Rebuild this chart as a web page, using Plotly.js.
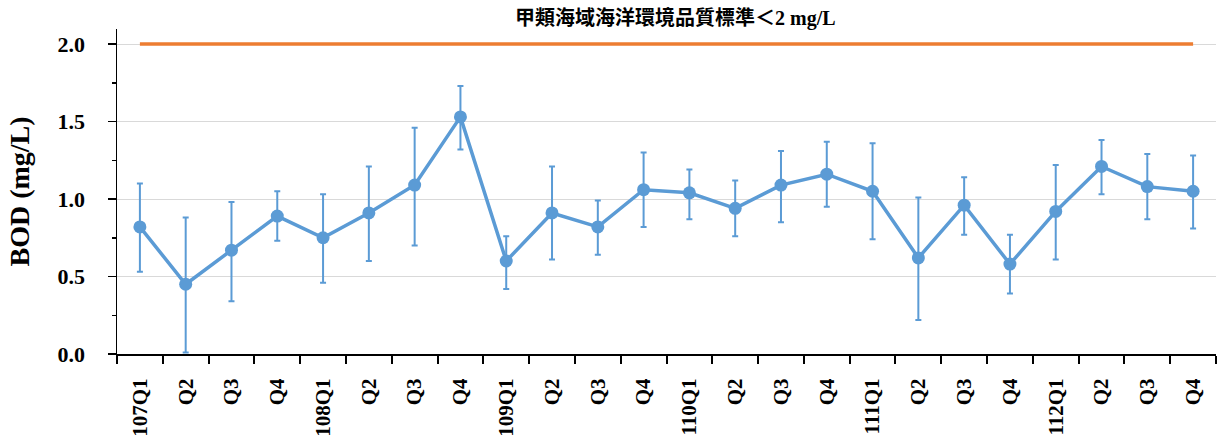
<!DOCTYPE html>
<html>
<head>
<meta charset="utf-8">
<script src="https://cdn.plot.ly/plotly-3.0.1.min.js"></script>
<style>html,body{margin:0;padding:0;background:#fff;}#chart{width:1220px;height:442px;}</style>
</head>
<body>
<div id="chart"></div>
<script>
// Quarter labels along the x axis
const quarters = ["107Q1","Q2","Q3","Q4","108Q1","Q2","Q3","Q4","109Q1","Q2","Q3","Q4",
                  "110Q1","Q2","Q3","Q4","111Q1","Q2","Q3","Q4","112Q1","Q2","Q3","Q4"];
// Mean BOD (mg/L)
const bodMean = [0.82,0.45,0.67,0.89,0.75,0.91,1.09,1.53,0.60,0.91,0.82,1.06,
                 1.04,0.94,1.09,1.16,1.05,0.62,0.96,0.58,0.92,1.21,1.08,1.05];
// Upper end of error bar
const bodHigh = [1.10,0.88,0.98,1.05,1.03,1.21,1.46,1.73,0.76,1.21,0.99,1.30,
                 1.19,1.12,1.31,1.37,1.36,1.01,1.14,0.77,1.22,1.38,1.29,1.28];
// Lower end of error bar
const bodLow  = [0.53,0.01,0.34,0.73,0.46,0.60,0.70,1.32,0.42,0.61,0.64,0.82,
                 0.87,0.76,0.85,0.95,0.74,0.22,0.77,0.39,0.61,1.03,0.87,0.81];
// Class A marine water quality standard
const standardLimit = 2.0;
const standardLabel = "甲類海域海洋環境品質標準＜2 mg/L";
const yTitle = "BOD (mg/L)";

const idx = quarters.map((_, i) => i);
const errPlus = bodHigh.map((h, i) => h - bodMean[i]);
const errMinus = bodMean.map((m, i) => m - bodLow[i]);

const serif = "'Times New Roman', 'Liberation Serif', 'Noto Sans CJK TC', serif";

const traces = [
  {
    x: idx, y: idx.map(() => standardLimit),
    mode: "lines", type: "scatter",
    line: {color: "#ED7D31", width: 3.5},
    hoverinfo: "skip", showlegend: false
  },
  {
    x: idx, y: bodMean,
    mode: "lines+markers", type: "scatter",
    line: {color: "#5B9BD5", width: 3.5},
    marker: {color: "#5B9BD5", size: 13},
    error_y: {type: "data", symmetric: false, array: errPlus, arrayminus: errMinus,
              color: "#5B9BD5", thickness: 2, width: 3},
    showlegend: false
  }
];

const layout = {
  width: 1220, height: 442,
  margin: {l: 117, r: 4, t: 29, b: 88},
  paper_bgcolor: "#fff", plot_bgcolor: "#fff",
  showlegend: false,
  xaxis: {
    range: [-0.5, quarters.length - 0.5],
    tickmode: "array", tickvals: idx, ticktext: quarters,
    tickangle: -90, ticks: "",
    ticklabelstandoff: 14,
    tickfont: {family: serif, size: 21, color: "#000", weight: "bold"},
    showline: true, linecolor: "#000", linewidth: 2,
    showgrid: false, zeroline: false,
    minor: {tick0: -0.5, dtick: 1, ticks: "outside", ticklen: 8, tickwidth: 2, tickcolor: "#000", showgrid: false}
  },
  yaxis: {
    range: [0, 2.097],
    tickmode: "array", tickvals: [0, 0.5, 1.0, 1.5, 2.0],
    ticktext: ["0.0","0.5","1.0","1.5","2.0"],
    ticks: "outside", ticklen: 8, tickwidth: 1.5, tickcolor: "#000",
    ticklabelstandoff: 18,
    tickfont: {family: serif, size: 22, color: "#000", weight: "bold"},
    showline: true, linecolor: "#000", linewidth: 1.5,
    showgrid: true, gridcolor: "#d9d9d9", gridwidth: 1,
    zeroline: false,
    minor: {tick0: 0, dtick: 0.25, ticks: "outside", ticklen: 4, tickwidth: 1.5, tickcolor: "#000", showgrid: false},
    title: {text: yTitle, font: {family: serif, size: 28, color: "#000", weight: "bold"}, standoff: 20}
  },
  annotations: [{
    text: standardLabel, xref: "paper", yref: "paper", x: 0.508, y: 1.0, yanchor: "bottom",
    yshift: -3, showarrow: false,
    font: {family: serif, size: 20, color: "#000", weight: "bold"}
  }]
};

Plotly.newPlot("chart", traces, layout, {displayModeBar: false, staticPlot: true});
</script>
</body>
</html>
